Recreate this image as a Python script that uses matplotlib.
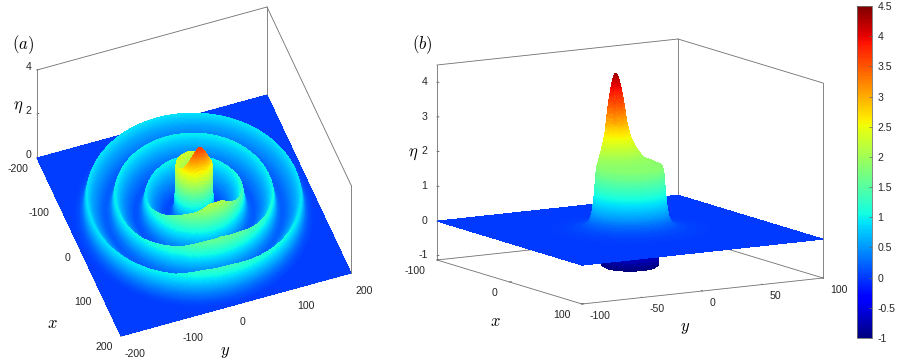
import numpy as np
import matplotlib
matplotlib.use('Agg')
import matplotlib.pyplot as plt
from matplotlib.cm import ScalarMappable
from matplotlib.colors import Normalize
from mpl_toolkits.mplot3d import proj3d

plt.rcParams['font.family'] = ['Liberation Sans', 'DejaVu Sans']
plt.rcParams['mathtext.fontset'] = 'cm'

W, H = 897, 363
VMIN, VMAX = -1, 4.5

# ---- values ----
a_ticks_xy = [-200, -100, 0, 100, 200]
a_ticks_z = [0, 2, 4]
b_ticks_x = [-100, 0, 100]
b_ticks_y = [-100, -50, 0, 50, 100]
b_ticks_z = [-1, 0, 1, 2, 3, 4]
cb_ticks = [-1, -0.5, 0, 0.5, 1, 1.5, 2, 2.5, 3, 3.5, 4, 4.5]
cb_labels = ['-1', '-0.5', '0', '0.5', '1', '1.5', '2', '2.5', '3', '3.5', '4', '4.5']

# panel (a): crest radii, crest height by azimuth, ring cross-section
azimuth_deg = [0, 15, 30, 45, 60, 75, 90, 105, 120, 135, 150, 165, 180, 195, 210, 225, 240, 255, 270, 285, 300, 315, 330, 345]
ring_radii = [79, 129, 175]
ring_inner = [2.1, 2.05, 1.7, 1.45, 1.3, 1.2, 1.1, 1.02, 1.0, 1.0, 1.0, 1.0, 1.0, 0.98, 0.95, 0.92, 0.9, 0.9, 1.0, 1.15, 1.3, 1.5, 1.68, 1.83]
ring_middle = [1.6, 1.5, 1.3, 1.15, 1.05, 1.0, 0.97, 0.95, 0.95, 0.95, 0.95, 0.95, 0.95, 0.95, 0.95, 0.95, 0.95, 0.95, 0.95, 0.97, 1.02, 1.15, 1.28, 1.5]
ring_outer = [1.3, 1.18, 1.08, 1.0, 0.94, 0.9, 0.9, 0.9, 0.9, 0.9, 0.9, 0.9, 0.9, 0.9, 0.9, 0.9, 0.9, 0.9, 0.9, 0.9, 0.93, 0.97, 1.03, 1.25]
ring_offset = [-60, -40, -30, -20, -10, -5, 0, 1, 2, 4, 7, 12, 20, 35]
ring_shape = [0.0, 0.04, 0.12, 0.34, 0.6, 0.78, 1.0, 0.93, 0.8, 0.55, 0.3, 0.12, 0.03, 0.0]
a_col_r = [0, 12, 20, 27, 29, 30, 30.5, 31, 32, 34, 38, 45, 60]
a_col_z = [1.85, 1.85, 2.0, 2.3, 2.3, 2.2, 1.5, 1.0, 0.55, 0.28, 0.12, 0.05, 0.0]
a_peak_xy = [27, 0]
a_peak_d = [0, 5, 10, 15, 20, 30, 40]
a_peak_z = [1.35, 1.25, 1.05, 0.8, 0.55, 0.2, 0.0]

# panel (b): column cross-section, spike and pit beneath
b_col_r = [0, 23, 24, 25, 26, 27.5, 30, 35, 45, 60]
b_col_z = [1.85, 1.85, 1.7, 1.25, 0.8, 0.42, 0.2, 0.1, 0.04, 0.0]
b_peak_xy = [-24, 2]
b_peak_d = [0, 2, 4, 5.8, 8.7, 11, 15, 20, 30, 40]
b_peak_z = [2.6, 2.45, 2.15, 1.8, 1.05, 0.7, 0.36, 0.1, 0.01, 0.0]
b_pit_r = [0, 18, 20, 21, 21.5]
b_pit_z = [-1.05, -1.05, -1.0, -0.6, 0.0]


def setup(ax, xr, yr, zr, xvec, yvec, zpx, origin_px):
    """Choose view and box so the orthographic box lands on the reference corners."""
    xr_, xu = xvec
    yr_, yu = yvec
    tan2 = -(xr_ / xu) * (yu / yr_)
    phi = -np.arctan(np.sqrt(tan2))
    sin2 = -(yu / yr_) / (xr_ / xu)
    th = np.arcsin(np.sqrt(sin2))
    a = xr_ / -np.sin(phi)
    b = yr_ / np.cos(phi)
    c = zpx / np.cos(th)
    ax.set_proj_type('ortho')
    ax.view_init(elev=np.degrees(th), azim=np.degrees(phi))
    ax.set_xlim(*xr)
    ax.set_ylim(*yr)
    ax.set_zlim(*zr)
    ax.set_box_aspect((a, b, c))
    target0 = np.array(origin_px, float)
    target1 = target0 + np.array([xr_ + yr_, xu + yu])
    for _ in range(3):
        ax.figure.canvas.draw()
        M = ax.get_proj()
        pts = []
        for (x, y) in ((xr[0], yr[0]), (xr[1], yr[1])):
            px, py, _z = proj3d.proj_transform(x, y, zr[0], M)
            pts.append(ax.transData.transform((px, py)))
        p0, p1 = np.array(pts)
        s = np.linalg.norm(target1 - target0) / np.linalg.norm(p1 - p0)
        pos = ax.get_position()
        w = pos.width * W * s
        cx = pos.x0 * W + pos.width * W / 2
        cy = pos.y0 * H + pos.height * H / 2
        ncx = target0[0] + (cx - p0[0]) * s
        ncy = target0[1] + (cy - p0[1]) * s
        ax.set_position([(ncx - w / 2) / W, (ncy - w / 2) / H, w / W, w / H])


def style(ax, xr, yr, zr, edges):
    ax.patch.set_alpha(0)
    ax.grid(False)
    for axis in (ax.xaxis, ax.yaxis, ax.zaxis):
        axis.set_pane_color((1, 1, 1, 0))
        axis.line.set_color((0, 0, 0, 0))
        axis._axinfo['tick']['inward_factor'] = 0.0
        axis._axinfo['tick']['outward_factor'] = 0.1
        axis._axinfo['tick']['linewidth'] = {True: 0.5, False: 0.5}
        axis._axinfo['tick']['color'] = '#666666'
    ax.tick_params(labelsize=7.6, colors='#262626', pad=0)
    ax.zaxis.set_ticks_position('lower')
    xs = {0: xr[0], 1: xr[1]}
    ys = {0: yr[0], 1: yr[1]}
    zs = {0: zr[0], 1: zr[1]}
    for e0, e1 in edges:
        ax.plot([xs[e0[0]], xs[e1[0]]], [ys[e0[1]], ys[e1[1]]], [zs[e0[2]], zs[e1[2]]],
                color='#707070', lw=0.6, zorder=0)


def square_polar(radii, theta_deg, half):
    """Mesh of circles whose last circle is stretched onto the square border."""
    R, T = np.meshgrid(radii, np.radians(theta_deg))
    RR = R.copy()
    RR[:, -1] = half / np.maximum(np.abs(np.cos(T[:, -1])), np.abs(np.sin(T[:, -1])))
    return RR * np.cos(T), RR * np.sin(T), R


EDGES = [((0, 0, 0), (0, 0, 1)), ((0, 0, 1), (0, 1, 1)), ((0, 1, 1), (1, 1, 1)), ((1, 1, 1), (1, 1, 0)),
         ((0, 1, 0), (0, 1, 1)), ((0, 0, 0), (1, 0, 0)), ((1, 0, 0), (1, 1, 0)), ((0, 0, 0), (0, 1, 0)),
         ((0, 1, 0), (1, 1, 0))]

fig = plt.figure(figsize=(W / 100, H / 100), dpi=100)

# place both boxes before any surface exists, so the fitting draws stay cheap
axa = fig.add_axes([0.02, 0.02, 0.4, 0.4 * W / H], projection='3d', computed_zorder=False)
setup(axa, (-200, 200), (-200, 200), (0, 4), (84, -178), (230, 63), 88, (37, 363 - 158))
style(axa, (-200, 200), (-200, 200), (0, 4), EDGES)
axb = fig.add_axes([0.5, 0.02, 0.4, 0.4 * W / H], projection='3d', computed_zorder=False)
z0, z1 = -1.12, 4.5
setup(axb, (-100, 100), (-100, 100), (z0, z1), (145, -44), (241, 26), 195, (437, 363 - 260))
style(axb, (-100, 100), (-100, 100), (z0, z1), EDGES)

# ---------- panel (a) ----------
radii_a = np.unique(np.concatenate([
    np.arange(0, 198, 1.0), np.arange(26, 36, 0.08),
    np.arange(76, 92, 0.25), np.arange(126, 142, 0.25), np.arange(172, 188, 0.25), [240]]))
theta_a = np.arange(0, 360.1, 1.25)
Xa, Ya, Ra = square_polar(radii_a, theta_a, 200)
Pa = np.degrees(np.arctan2(Ya, Xa)) % 360
Za = np.zeros_like(Xa)
for rk, table in zip(ring_radii, (ring_inner, ring_middle, ring_outer)):
    h = np.interp(Pa, azimuth_deg, table, period=360)
    Za += h * np.interp(Ra - rk, ring_offset, ring_shape)
dpa = np.hypot(Xa - a_peak_xy[0], Ya - a_peak_xy[1])
Za = np.maximum(Za, np.interp(Ra, a_col_r, a_col_z)
                + np.interp(dpa, a_peak_d, a_peak_z) * np.interp(Ra, [29, 31], [1, 0]))
axa.plot_surface(Xa, Ya, Za, cmap='jet', vmin=VMIN, vmax=VMAX, rstride=1, cstride=1,
                 linewidth=0, antialiased=False, zorder=2)
axa.set_xticks(a_ticks_xy)
axa.set_yticks(a_ticks_xy)
axa.set_zticks(a_ticks_z)
axa.set_xticklabels([str(v) for v in a_ticks_xy], ha='right')
axa.set_yticklabels([str(v) for v in a_ticks_xy], ha='left')
axa.set_zticklabels([str(v) for v in a_ticks_z], ha='center', va='center')
axa.tick_params(axis='x', pad=-3)
axa.tick_params(axis='y', pad=-1.5)
axa.tick_params(axis='z', pad=-4.5)
fig.text(52 / W, 1 - 323 / H, r'$x$', fontsize=12, ha='center', va='center')
fig.text(225 / W, 1 - 352 / H, r'$y$', fontsize=12, ha='center', va='center')
fig.text(18 / W, 1 - 107 / H, r'$\eta$', fontsize=12, ha='center', va='center')
fig.text(23 / W, 1 - 45 / H, r'$(a)$', fontsize=12, ha='center', va='center')

# ---------- panel (b) ----------
radii_p = np.arange(0, 22.01, 0.25)
theta_p = np.arange(0, 361, 6)
Rp, Tp = np.meshgrid(radii_p, np.radians(theta_p))
axb.plot_surface(Rp * np.cos(Tp), Rp * np.sin(Tp), np.interp(Rp, b_pit_r, b_pit_z), cmap='jet',
                 vmin=VMIN, vmax=VMAX, rstride=1, cstride=1, linewidth=0, antialiased=False, zorder=1)
radii_b = np.unique(np.concatenate([
    np.arange(0, 23, 0.4), np.arange(23, 28, 0.05), np.arange(28, 40, 0.5), np.arange(40, 96, 2.0), [120]]))
theta_b = np.arange(0, 360.1, 1.25)
Xb, Yb, Rb = square_polar(radii_b, theta_b, 100)
dpb = np.hypot(Xb - b_peak_xy[0], Yb - b_peak_xy[1])
Zb = np.interp(Rb, b_col_r, b_col_z) + np.interp(dpb, b_peak_d, b_peak_z) * np.interp(Rb, [24, 25.5], [1, 0])
axb.plot_surface(Xb, Yb, Zb, cmap='jet', vmin=VMIN, vmax=VMAX, rstride=1, cstride=1,
                 linewidth=0, antialiased=False, zorder=2)
axb.set_xticks(b_ticks_x)
axb.set_yticks(b_ticks_y)
axb.set_zticks(b_ticks_z)
axb.set_xticklabels([str(v) for v in b_ticks_x], ha='right', va='center')
axb.set_yticklabels([str(v) for v in b_ticks_y], ha='left', va='center')
axb.set_zticklabels([str(v) for v in b_ticks_z], ha='right', va='center')
axb.tick_params(axis='z', pad=-4)
fig.text(495 / W, 1 - 322 / H, r'$x$', fontsize=12, ha='center', va='center')
fig.text(685 / W, 1 - 328 / H, r'$y$', fontsize=12, ha='center', va='center')
fig.text(413 / W, 1 - 154 / H, r'$\eta$', fontsize=12, ha='center', va='center')
fig.text(422 / W, 1 - 45 / H, r'$(b)$', fontsize=12, ha='center', va='center')

# ---------- colorbar ----------
cax = fig.add_axes([857 / W, 1 - 338 / H, 15 / W, 332 / H])
cb = fig.colorbar(ScalarMappable(Normalize(VMIN, VMAX), 'jet'), cax=cax)
cb.set_ticks(cb_ticks)
cb.set_ticklabels(cb_labels)
cb.ax.tick_params(labelsize=7.6, length=2, width=0.5, color='#666666', pad=4, labelcolor='#262626', direction='in')
cb.outline.set_edgecolor('#707070')
cb.outline.set_linewidth(0.6)

fig.savefig('out.png', dpi=100)
